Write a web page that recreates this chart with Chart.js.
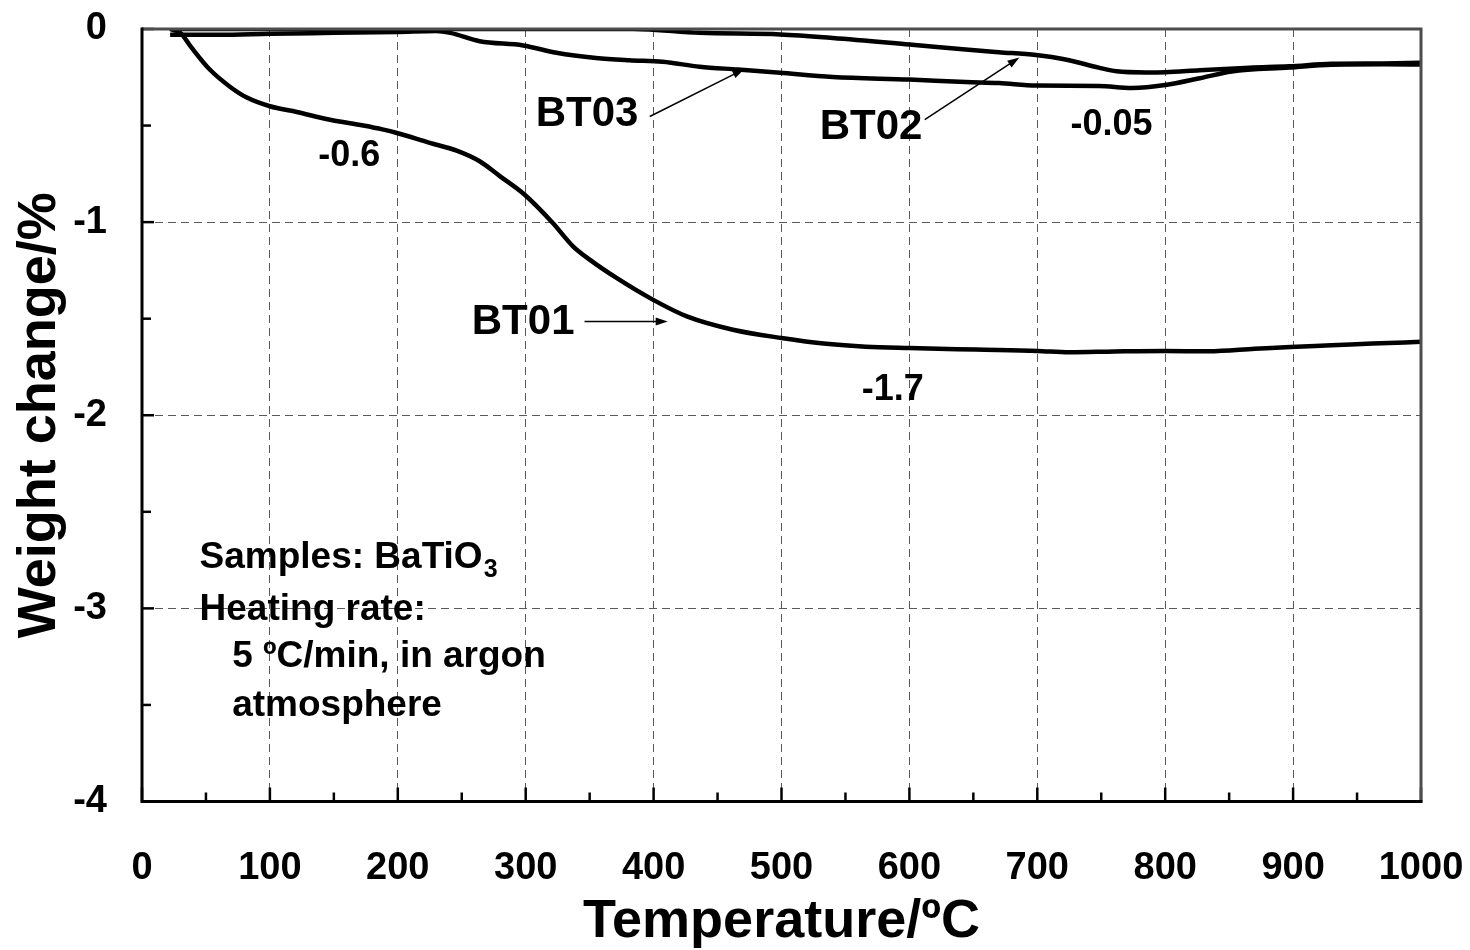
<!DOCTYPE html>
<html>
<head>
<meta charset="utf-8">
<title>Weight change vs temperature</title>
<script src="https://cdn.jsdelivr.net/npm/chart.js@4.4.0/dist/chart.umd.min.js"></script>
<style>
  html, body { margin: 0; padding: 0; background: #fff; }
</style>
</head>
<body>
<canvas id="tga" width="1470" height="950"></canvas>
<script>
// Values (temperature in ºC, weight change in %)
const bt01Temp   = [22, 30, 38, 53, 69, 82, 100, 121, 147, 173, 188, 200, 225, 246, 264, 280, 299, 321, 337, 350, 371, 399, 426, 462, 500, 535, 566, 600, 652, 700, 725, 760, 800, 834, 870, 898, 930, 962, 1000];
const bt01Weight = [0, -0.02, -0.09, -0.21, -0.30, -0.355, -0.40, -0.43, -0.47, -0.50, -0.52, -0.54, -0.59, -0.63, -0.685, -0.763, -0.857, -1.003, -1.125, -1.194, -1.289, -1.40, -1.488, -1.557, -1.60, -1.63, -1.645, -1.652, -1.66, -1.667, -1.674, -1.67, -1.667, -1.669, -1.656, -1.646, -1.638, -1.629, -1.62];

const bt02Temp   = [22, 100, 200, 300, 384, 436, 499, 540, 600, 644, 670, 699, 722, 748, 762, 785, 800, 827, 866, 897, 930, 970, 1000];
const bt02Weight = [0, 0, 0, 0, 0, -0.02, -0.028, -0.046, -0.08, -0.106, -0.12, -0.135, -0.158, -0.20, -0.219, -0.225, -0.224, -0.213, -0.20, -0.193, -0.18, -0.178, -0.175];

const bt03Temp   = [22, 60, 100, 150, 200, 230, 241, 264, 298, 324, 355, 381, 407, 436, 466, 499, 540, 600, 644, 670, 699, 748, 774, 800, 827, 852, 897, 930, 970, 1000];
const bt03Weight = [-0.03, -0.03, -0.025, -0.02, -0.015, -0.01, -0.02, -0.063, -0.085, -0.123, -0.15, -0.162, -0.17, -0.195, -0.21, -0.227, -0.248, -0.262, -0.275, -0.28, -0.293, -0.295, -0.305, -0.29, -0.255, -0.22, -0.20, -0.185, -0.183, -0.184];

const xTickLabels = ['0', '100', '200', '300', '400', '500', '600', '700', '800', '900', '1000'];
const yTickLabels = ['-4', '-3', '-2', '-1', '0'];

// text labels placed in data units
const curveLabels = [
  { text: 'BT03', x: 348, y: -0.443, size: 42 },
  { text: 'BT02', x: 570, y: -0.51, size: 42 },
  { text: 'BT01', x: 298, y: -1.52, size: 42 },
  { text: '-0.6', x: 162, y: -0.66, size: 36 },
  { text: '-0.05', x: 758, y: -0.495, size: 36 },
  { text: '-1.7', x: 587, y: -1.868, size: 36 },
];

const arrows = [
  { from: [397, -0.453], to: [471, -0.207] },
  { from: [612, -0.469], to: [686, -0.148] },
  { from: [346, -1.515], to: [411, -1.515] },
];

const FONT = '"Liberation Sans", Arial, sans-serif';

function toPoints(xs, ys) {
  return xs.map((x, i) => ({ x: x, y: ys[i] }));
}

function curve(label, xs, ys) {
  return {
    label: label,
    data: toPoints(xs, ys),
    showLine: true,
    borderColor: '#000',
    borderWidth: 4.5,
    pointRadius: 0,
    cubicInterpolationMode: 'monotone',
  };
}

// inward ticks, frame, labels, arrows and the note
const decorations = {
  id: 'decorations',
  afterDatasetsDraw(chart) {
    const ctx = chart.ctx;
    const xs = chart.scales.x;
    const ys = chart.scales.y;
    const a = chart.chartArea;

    ctx.save();
    ctx.strokeStyle = '#000';
    ctx.lineWidth = 2.5;
    for (let t = 0; t <= 1000; t += 50) {
      const px = xs.getPixelForValue(t);
      const len = t % 100 === 0 ? 14 : 9;
      ctx.beginPath();
      ctx.moveTo(px, a.bottom);
      ctx.lineTo(px, a.bottom - len);
      ctx.stroke();
    }
    for (let w = -4; w <= 0; w += 0.5) {
      const py = ys.getPixelForValue(w);
      const len = Number.isInteger(w) ? 12 : 9;
      ctx.beginPath();
      ctx.moveTo(a.left, py);
      ctx.lineTo(a.left + len, py);
      ctx.stroke();
    }

    // frame: top/right grey, left/bottom black
    ctx.lineWidth = 3;
    ctx.strokeStyle = '#4d4d4d';
    ctx.beginPath();
    ctx.moveTo(a.left, a.top);
    ctx.lineTo(a.right, a.top);
    ctx.lineTo(a.right, a.bottom);
    ctx.stroke();
    ctx.strokeStyle = '#000';
    ctx.beginPath();
    ctx.moveTo(a.left, a.top - 1.5);
    ctx.lineTo(a.left, a.bottom);
    ctx.lineTo(a.right + 1.5, a.bottom);
    ctx.stroke();

    // arrows
    ctx.lineWidth = 1.5;
    ctx.fillStyle = '#000';
    arrows.forEach(ar => {
      const x1 = xs.getPixelForValue(ar.from[0]), y1 = ys.getPixelForValue(ar.from[1]);
      const x2 = xs.getPixelForValue(ar.to[0]), y2 = ys.getPixelForValue(ar.to[1]);
      const ang = Math.atan2(y2 - y1, x2 - x1);
      ctx.beginPath();
      ctx.moveTo(x1, y1);
      ctx.lineTo(x2 - 8 * Math.cos(ang), y2 - 8 * Math.sin(ang));
      ctx.stroke();
      ctx.beginPath();
      ctx.moveTo(x2, y2);
      ctx.lineTo(x2 - 12 * Math.cos(ang) + 4 * Math.sin(ang), y2 - 12 * Math.sin(ang) - 4 * Math.cos(ang));
      ctx.lineTo(x2 - 12 * Math.cos(ang) - 4 * Math.sin(ang), y2 - 12 * Math.sin(ang) + 4 * Math.cos(ang));
      ctx.closePath();
      ctx.fill();
    });

    // curve labels
    ctx.textAlign = 'center';
    ctx.textBaseline = 'middle';
    curveLabels.forEach(l => {
      ctx.font = 'bold ' + l.size + 'px ' + FONT;
      ctx.fillText(l.text, xs.getPixelForValue(l.x), ys.getPixelForValue(l.y));
    });

    // note in lower-left
    ctx.textAlign = 'left';
    ctx.font = 'bold 37px ' + FONT;
    const nx = xs.getPixelForValue(45);
    const nx2 = xs.getPixelForValue(70.5);
    const s1 = 'Samples: BaTiO';
    const py1 = ys.getPixelForValue(-2.738);
    ctx.fillText(s1, nx, py1);
    const w1 = ctx.measureText(s1).width;
    ctx.font = 'bold 25px ' + FONT;
    ctx.fillText('3', nx + w1 + 1, py1 + 12);
    ctx.font = 'bold 37px ' + FONT;
    ctx.fillText('Heating rate:', nx, ys.getPixelForValue(-3.008));
    ctx.fillText('5 ºC/min, in argon', nx2, ys.getPixelForValue(-3.251));
    ctx.fillText('atmosphere', nx2, ys.getPixelForValue(-3.505));
    ctx.restore();
  }
};

const tickFont = { family: FONT, size: 38, weight: 'bold' };
const titleFont = { family: FONT, size: 54, weight: 'bold', lineHeight: 1 };

// fixed axis boxes, no extra room for overhanging labels
function fixBox(size, isX) {
  return s => {
    if (isX) s.height = size; else s.width = size;
    s.paddingTop = 0;
    s.paddingBottom = 0;
    s.paddingLeft = 0;
    s.paddingRight = 0;
  };
}

new Chart(document.getElementById('tga'), {
  type: 'scatter',
  data: {
    datasets: [
      curve('BT01', bt01Temp, bt01Weight),
      curve('BT02', bt02Temp, bt02Weight),
      curve('BT03', bt03Temp, bt03Weight),
    ]
  },
  options: {
    responsive: false,
    animation: false,
    devicePixelRatio: 1,
    layout: { padding: { top: 29, right: 49, left: 0, bottom: 0 } },
    plugins: {
      legend: { display: false },
      tooltip: { enabled: false },
    },
    scales: {
      x: {
        type: 'linear',
        min: 0,
        max: 1000,
        afterFit: fixBox(148.5, true),
        ticks: {
          stepSize: 100,
          autoSkip: false,
          maxRotation: 0,
          padding: 44,
          color: '#000',
          font: tickFont,
          callback: (v, i) => xTickLabels[i],
        },
        grid: { color: '#5a5a5a', lineWidth: 1, drawTicks: false },
        border: { display: false, dash: [8, 5] },
        title: {
          display: true,
          text: 'Temperature/ºC',
          color: '#000',
          font: titleFont,
          padding: { top: 0, bottom: 1 },
        },
      },
      y: {
        type: 'linear',
        min: -4,
        max: 0,
        afterFit: fixBox(142, false),
        ticks: {
          stepSize: 1,
          autoSkip: false,
          padding: 35,
          color: '#000',
          font: tickFont,
          callback: (v, i) => yTickLabels[i],
        },
        grid: { color: '#5a5a5a', lineWidth: 1, drawTicks: false },
        border: { display: false, dash: [8, 5] },
        title: {
          display: true,
          text: 'Weight change/%',
          color: '#000',
          font: titleFont,
          padding: { top: 13, bottom: 0 },
        },
      },
    },
  },
  plugins: [decorations],
});
</script>
</body>
</html>
